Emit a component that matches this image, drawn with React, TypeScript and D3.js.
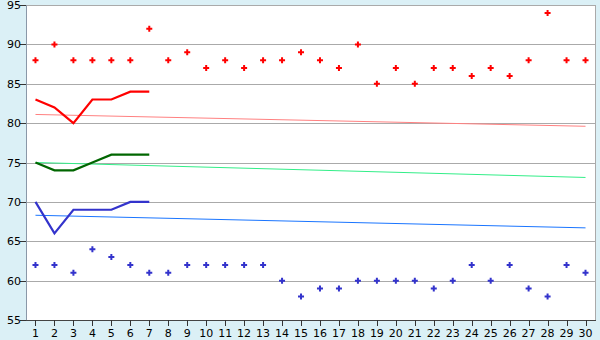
import React from "react";
import * as d3 from "d3";

const days = d3.range(1, 31);
const redPoints = [88, 90, 88, 88, 88, 88, 92, 88, 89, 87, 88, 87, 88, 88, 89, 88, 87, 90, 85, 87, 85, 87, 87, 86, 87, 86, 88, 94, 88, 88];
const bluePoints = [62, 62, 61, 64, 63, 62, 61, 61, 62, 62, 62, 62, 62, 60, 58, 59, 59, 60, 60, 60, 60, 59, 60, 62, 60, 62, 59, 58, 62, 61];
const redLine = [83, 82, 80, 83, 83, 84, 84];
const greenLine = [75, 74, 74, 75, 76, 76, 76];
const blueLine = [70, 66, 69, 69, 69, 70, 70];
const redTrend = [{ day: 1, v: 81.1 }, { day: 30, v: 79.6 }];
const greenTrend = [{ day: 1, v: 75.0 }, { day: 30, v: 73.1 }];
const blueTrend = [{ day: 1, v: 68.3 }, { day: 30, v: 66.7 }];
const yTicks = [55, 60, 65, 70, 75, 80, 85, 90, 95];

const W = 600, H = 340;
const L = 26, R = 595, T = 5, B = 320;

export default function App() {
  const x = d3.scaleBand<number>().domain(days).range([L, R]);
  const cx = (d: number) => (x(d) as number) + x.bandwidth() / 2;
  const y = d3.scaleLinear().domain([55, 95]).range([B, T]);
  const line = d3.line<number>().x((_, i) => cx(days[i])).y((v) => y(v));
  const tline = d3.line<{ day: number; v: number }>().x((d) => cx(d.day)).y((d) => y(d.v));
  const plus = "M-1,-3H1V-1H3V1H1V3H-1V1H-3V-1H-1Z";
  const font = "DejaVu Sans, Verdana, sans-serif";

  return (
    <svg width={W} height={H} style={{ position: "absolute", left: 0, top: 0 }}>
      <rect x={0} y={0} width={W} height={H} fill="#dbf0f6" />
      <rect x={L} y={T} width={R - L} height={B - T} fill="#ffffff" />
      {yTicks.map((t) => (
        <g key={t}>
          <line x1={L} x2={R} y1={Math.round(y(t)) + 0.5} y2={Math.round(y(t)) + 0.5} stroke="#aaaaaa" />
          <line x1={L - 6} x2={L} y1={Math.round(y(t)) + 0.5} y2={Math.round(y(t)) + 0.5} stroke="#333" />
          <text x={L - 5} y={y(t) + 4} textAnchor="end" fontSize={11} fontFamily={font} fill="#000">{t}</text>
        </g>
      ))}
      <line x1={R + 0.5} x2={R + 0.5} y1={T} y2={B} stroke="#aaaaaa" />
      <line x1={L + 0.5} x2={L + 0.5} y1={T} y2={B} stroke="#8a98a8" />
      <line x1={L} x2={R + 1} y1={B + 0.5} y2={B + 0.5} stroke="#444" />
      {days.map((d) => (
        <g key={d}>
          <line x1={Math.round(cx(d)) + 0.5} x2={Math.round(cx(d)) + 0.5} y1={B} y2={B + 6} stroke="#333" />
          <text x={cx(d)} y={337} textAnchor="middle" fontSize={11} fontFamily={font} fill="#000">{d}</text>
        </g>
      ))}
      <path d={tline(redTrend) as string} fill="none" stroke="#ff8080" strokeWidth={1} />
      <path d={tline(greenTrend) as string} fill="none" stroke="#33ee88" strokeWidth={1} />
      <path d={tline(blueTrend) as string} fill="none" stroke="#1a75ff" strokeWidth={1} />
      <path d={line(redLine) as string} fill="none" stroke="#ff0000" strokeWidth={2.2} />
      <path d={line(greenLine) as string} fill="none" stroke="#006600" strokeWidth={2.2} />
      <path d={line(blueLine) as string} fill="none" stroke="#3333cc" strokeWidth={2.2} />
      {redPoints.map((v, i) => (
        <path key={"r" + i} d={plus} transform={`translate(${cx(days[i])},${y(v)})`} fill="#ff0000" />
      ))}
      {bluePoints.map((v, i) => (
        <path key={"b" + i} d={plus} transform={`translate(${cx(days[i])},${y(v)})`} fill="#3333cc" />
      ))}
    </svg>
  );
}
